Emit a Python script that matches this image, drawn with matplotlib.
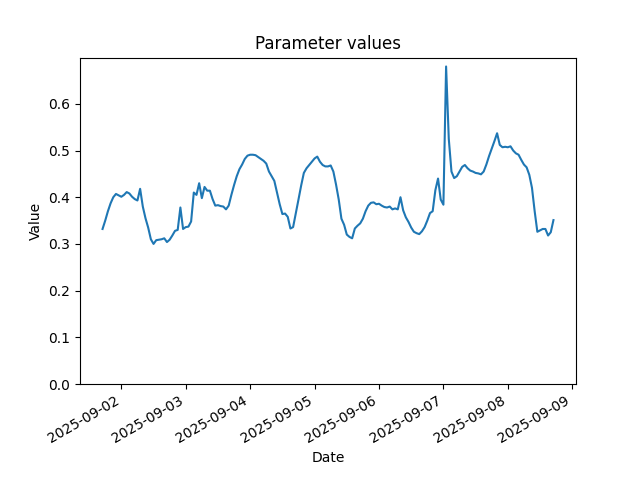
import numpy as np
import pandas as pd
import matplotlib
matplotlib.use("Agg")
import matplotlib.pyplot as plt

# hourly readings, starting 2025-09-01 17:00
start = "2025-09-01 17:00"
values = [
    0.332, 0.350, 0.370, 0.387, 0.400, 0.407, 0.404, 0.401, 0.405, 0.411,
    0.408, 0.401, 0.396, 0.393, 0.418, 0.380, 0.355, 0.335, 0.310, 0.300,
    0.308, 0.309, 0.310, 0.312, 0.304, 0.309, 0.318, 0.328, 0.330, 0.378,
    0.332, 0.336, 0.337, 0.348, 0.410, 0.405, 0.430, 0.398, 0.422, 0.414,
    0.414, 0.396, 0.382, 0.383, 0.381, 0.380, 0.374, 0.382, 0.405, 0.426,
    0.445, 0.460, 0.470, 0.482, 0.489, 0.491, 0.491, 0.490, 0.486, 0.482,
    0.478, 0.472, 0.455, 0.445, 0.435, 0.410, 0.385, 0.364, 0.365, 0.358,
    0.333, 0.336, 0.365, 0.395, 0.425, 0.452, 0.462, 0.469, 0.476, 0.483,
    0.487, 0.476, 0.469, 0.466, 0.466, 0.468, 0.455, 0.427, 0.395, 0.354,
    0.341, 0.320, 0.315, 0.312, 0.333, 0.339, 0.344, 0.354, 0.370, 0.382,
    0.388, 0.389, 0.385, 0.386, 0.382, 0.379, 0.378, 0.380, 0.374, 0.376,
    0.374, 0.400, 0.372, 0.357, 0.347, 0.335, 0.326, 0.323, 0.321, 0.327,
    0.336, 0.350, 0.366, 0.370, 0.415, 0.440, 0.395, 0.384, 0.680, 0.525,
    0.455, 0.441, 0.445, 0.455, 0.465, 0.469, 0.462, 0.457, 0.455, 0.452,
    0.451, 0.449, 0.455, 0.470, 0.488, 0.504, 0.520, 0.537, 0.512, 0.507,
    0.508, 0.507, 0.509, 0.500, 0.494, 0.491, 0.480, 0.470, 0.464, 0.448,
    0.420, 0.370, 0.326, 0.329, 0.332, 0.332, 0.318, 0.325, 0.351,
]

dates = pd.date_range(start, periods=len(values), freq="h")

fig, ax = plt.subplots(figsize=(6.4, 4.8), dpi=100)
ax.plot(dates, values)
ax.set_ylim(bottom=0)
ax.set_title("Parameter values")
ax.set_xlabel("Date")
ax.set_ylabel("Value")
fig.autofmt_xdate()

fig.savefig("out.png")
